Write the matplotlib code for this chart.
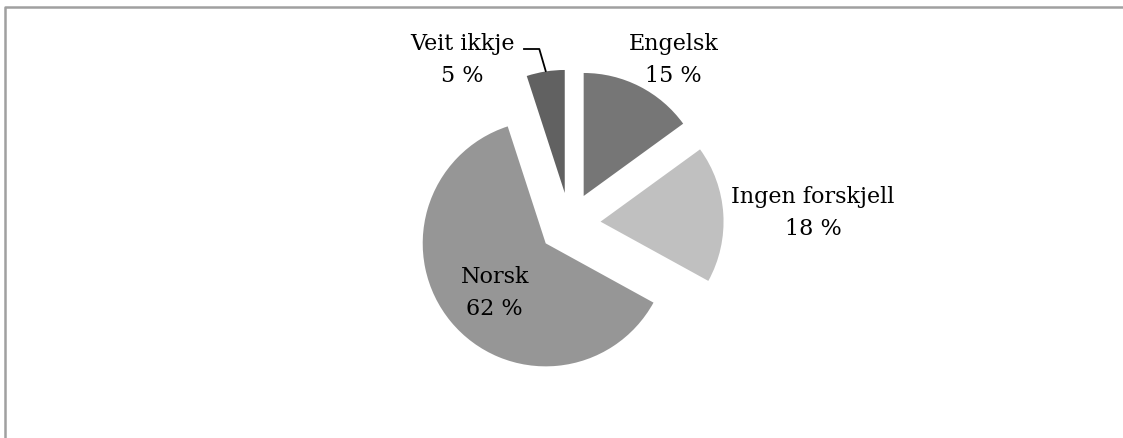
import matplotlib
matplotlib.use('Agg')
import matplotlib.pyplot as plt

# Данные диаграммы
labels = ['Engelsk', 'Ingen forskjell', 'Norsk', 'Veit ikkje']
values = [15, 18, 62, 5]
pct_labels = ['15 %', '18 %', '62 %', '5 %']
colors = ['#767676', '#c0c0c0', '#969696', '#616161']

# Размещение (пиксели, ось y вверх)
W, H = 1123, 438
center = (569.6, 438 - 223.6)
radius = 123
explode = 31  # в matplotlib смещение задаётся в единицах данных
label_pos = [(673.5, 438 - 50), (813, 438 - 203), (494.7, 438 - 283), (462.5, 438 - 50)]
line_gap = 32

plt.rcParams['font.family'] = ['DejaVu Serif']

fig = plt.figure(figsize=(W / 100, H / 100), dpi=100)
ax = fig.add_axes([0, 0, 1, 1])

ax.pie(values, explode=[explode] * len(values), colors=colors, startangle=90,
       counterclock=False, radius=radius, center=center,
       wedgeprops=dict(linewidth=0))

ax.set_xlim(0, W)
ax.set_ylim(0, H)
ax.set_aspect('auto')
ax.axis('off')

# Подписи
for (x, y), name, pct in zip(label_pos, labels, pct_labels):
    ax.text(x, y, name, ha='center', va='baseline', fontsize=16, color='black')
    ax.text(x, y - line_gap, pct, ha='center', va='baseline', fontsize=16, color='black')

# Выноска для "Veit ikkje"
ax.plot([524, 539.3, 545.7], [H - 49, H - 49, H - 71], color='black', lw=1.3)

# Рамка
ax.plot([5, 5, W], [0, H - 7, H - 7], color='#a0a0a0', lw=1.8, clip_on=False)

fig.savefig('out.png', dpi=100)
